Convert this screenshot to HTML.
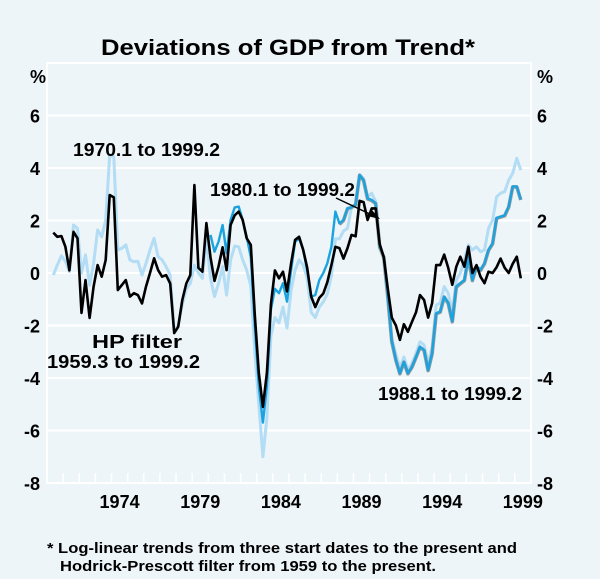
<!DOCTYPE html>
<html><head><meta charset="utf-8"><style>
body{margin:0;background:#edf5f9;}
svg{display:block;font-family:"Liberation Sans",Arial,sans-serif;font-weight:bold;}
</style></head><body>
<svg id="chart" width="600" height="579" viewBox="0 0 600 579">
<rect width="600" height="579" fill="#edf5f9"/>
<text x="101" y="55" font-size="22" textLength="374" lengthAdjust="spacingAndGlyphs" fill="#000">Deviations of GDP from Trend*</text>
<text x="46" y="83" text-anchor="end" font-size="18">%</text>
<text x="537" y="83" font-size="18">%</text>
<g id="grid"></g><g id="ticks"></g><g id="series"></g>
<rect x="47" y="63" width="484" height="420" fill="none" stroke="#fff" stroke-width="2"/>
<text x="73" y="156" font-size="18" textLength="147" lengthAdjust="spacingAndGlyphs">1970.1 to 1999.2</text>
<text x="210" y="196" font-size="18" textLength="145" lengthAdjust="spacingAndGlyphs">1980.1 to 1999.2</text>
<line x1="336" y1="198" x2="372" y2="215" stroke="#000" stroke-width="1.5"/>
<polygon points="380,219 367,216 371,209" fill="#000"/>
<text x="92" y="348" font-size="18" textLength="90" lengthAdjust="spacingAndGlyphs">HP filter</text>
<text x="47" y="368" font-size="18" textLength="153" lengthAdjust="spacingAndGlyphs">1959.3 to 1999.2</text>
<text x="378" y="400" font-size="18" textLength="144" lengthAdjust="spacingAndGlyphs">1988.1 to 1999.2</text>
<text x="47" y="553" font-size="15" textLength="470" lengthAdjust="spacingAndGlyphs">* Log-linear trends from three start dates to the present and</text>
<text x="60" y="571" font-size="15" textLength="376" lengthAdjust="spacingAndGlyphs">Hodrick-Prescott filter from 1959 to the present.</text>
</svg>
<script>
const yTicks=[6,4,2,0,-2,-4,-6,-8];
const xLabels=[1974,1979,1984,1989,1994,1999];
const startIndex1980=39;
const startIndex1988=71;
const hp=[1.54,1.38,1.41,1.0,0.1,1.57,1.32,-1.52,-0.27,-1.71,-0.52,0.3,-0.14,0.5,2.97,2.88,-0.65,-0.46,-0.27,-0.9,-0.77,-0.84,-1.16,-0.52,0,0.56,0.11,-0.14,-0.08,-0.4,-2.29,-2.05,-1.03,-0.4,-0.08,3.35,0.2,0.05,1.9,0.6,-0.3,0.24,0.98,0.11,1.83,2.2,2.34,2.02,1.32,1.07,-1.6,-3.8,-5.1,-3.8,-1.2,0.1,-0.2,0.05,-0.7,0.37,1.26,1.38,0.88,0.2,-0.9,-1.3,-0.95,-0.78,-0.35,0.3,1.0,0.95,0.55,0.95,1.45,1.4,2.75,2.7,2.02,2.46,2.46,1.1,0.6,-0.6,-1.7,-2.0,-2.55,-1.95,-2.24,-1.86,-1.5,-0.84,-1.03,-1.7,-1.15,0.3,0.3,0.7,0.2,-0.45,0.24,0.62,0.24,1.0,0,0.3,-0.14,-0.39,0.05,0,0.22,0.55,0.2,0,0.35,0.62,-0.2];
const trend1970=[-0.08,0.3,0.65,0.45,0.05,1.83,1.7,0.0,0.69,-0.46,0.37,1.64,1.38,2.02,4.5,4.43,0.88,0.94,1.07,0.5,0.43,0.45,-0.08,0.37,0.88,1.32,0.62,0.5,0.24,-0.08,-2.2,-2.0,-1.2,-0.6,-0.4,0.3,0.0,-0.2,1.33,-0.2,-0.9,-0.4,0.24,-0.84,0.5,1.03,1.0,0.5,0.11,-0.5,-3.0,-5.0,-7.0,-5.5,-2.4,-1.7,-1.9,-1.3,-2.1,-0.65,0.11,0.5,0.3,-0.2,-1.5,-1.7,-1.3,-1.1,-0.8,-0.1,1.3,1.3,1.6,1.7,2.5,2.6,3.75,3.6,2.9,3.04,2.72,1.0,0.5,-0.9,-2.5,-3.1,-3.6,-3.2,-3.7,-3.44,-3.06,-2.62,-2.74,-3.44,-2.81,-1.22,-1.15,-0.52,-0.77,-1.5,-0.27,0,0.5,1.07,0.88,1.0,0.81,0.88,1.7,2.02,2.9,3.04,3.1,3.54,3.8,4.37,3.92];
const trend1980=[1.45,0.81,1.19,1.83,0.75,2.02,2.5,2.53,2.02,1.38,0.6,-2.0,-4.3,-5.7,-4.3,-1.4,-0.6,-0.77,-0.39,-1.09,0.11,1.19,1.32,0.88,0.1,-0.9,-0.84,-0.27,0,0.37,1.0,2.34,1.89,2.02,2.46,2.5,2.6,3.73,3.54,2.84,2.78,2.66,1.0,0.62,-0.9,-2.6,-3.31,-3.82,-3.38,-3.82,-3.57,-3.2,-2.81,-2.93,-3.7,-3.06,-1.54,-1.47,-0.9,-1.14,-1.84,-0.52,-0.39,-0.27,0.62,-0.27,0.25,0.12,0.37,0.88,1.13,2.1,2.15,2.2,2.53,3.3,3.3,2.8];
const trend1988=[1.85,2.0,2.45,2.5,2.6,3.72,3.52,2.82,2.76,2.64,0.98,0.6,-0.92,-2.62,-3.33,-3.84,-3.4,-3.84,-3.59,-3.22,-2.83,-2.95,-3.72,-3.08,-1.56,-1.49,-0.92,-1.16,-1.86,-0.54,-0.41,-0.29,0.6,-0.29,0.23,0.1,0.35,0.86,1.11,2.08,2.13,2.18,2.51,3.28,3.28,2.78];

const NS="http://www.w3.org/2000/svg";
const yPos=v=>273-v*26.25;
const xIdx=i=>53.3+i*4.03;
const xYear=y=>47+(y-1970)*16.13;
const grid=document.getElementById('grid'),ticks=document.getElementById('ticks'),ser=document.getElementById('series');
function mk(tag,attrs,parent){const e=document.createElementNS(NS,tag);for(const k in attrs)e.setAttribute(k,attrs[k]);parent.appendChild(e);return e;}
yTicks.forEach(v=>{
  const y=yPos(v);
  if(v>-8){const g=mk('line',{x1:47,x2:531,y1:y,y2:y,stroke:'#fff','stroke-width':2},grid);
  
  }
  const l=mk('text',{x:40,y:y+7,'text-anchor':'end','font-size':18},ticks);l.textContent=v;
  
  
  const r=mk('text',{x:537,y:y+7,'font-size':18},ticks);r.textContent=v;
  
  
});
for(let yr=1971;yr<2000;yr++){const x=xYear(yr);const t=mk('line',{x1:x,x2:x,y1:483,y2:473,stroke:'#fff','stroke-width':1.5},ticks);

}
xLabels.forEach(yr=>{const t=mk('text',{x:xYear(yr+0.5),y:508,'text-anchor':'middle','font-size':18},ticks);t.textContent=yr;

});
function line(vals,start,color,w,name){
  const pts=vals.map((v,i)=>xIdx(i+start).toFixed(1)+','+yPos(v).toFixed(1)).join(' ');
  const p=mk('polyline',{points:pts,fill:'none',stroke:color,'stroke-width':w,'stroke-linejoin':'round'},ser);
  
  
}
line(trend1970,0,'#b3dcf5',3,'series-1970-trend');
line(trend1988,startIndex1988,'#9a9a9a',3.6,'series-1988-trend');
line(trend1980,startIndex1980,'#1aa3e0',2.4,'series-1980-trend');
line(hp,0,'#000',2.6,'series-hp-filter');
</script>
</body></html>
